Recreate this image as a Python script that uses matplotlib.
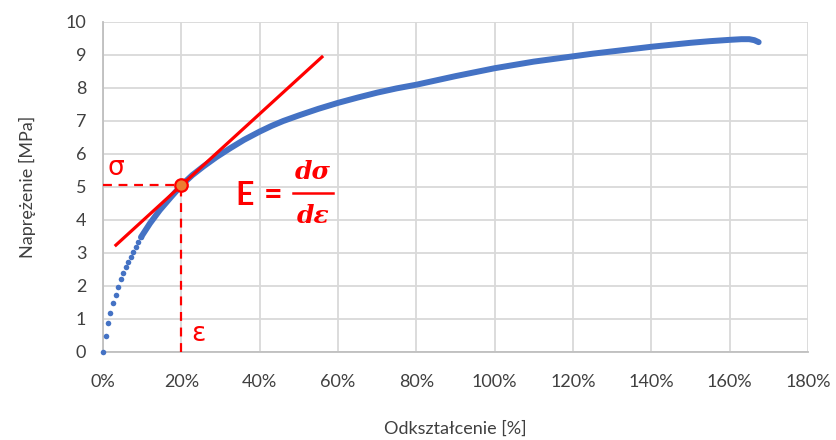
import matplotlib
matplotlib.use('Agg')
import matplotlib.pyplot as plt
from matplotlib.ticker import FuncFormatter

# sparse measurement points at the start (drawn as separate dots)
strain_start = [0, 0.69, 1.35, 1.87, 2.47, 3.24, 3.9, 4.5, 5.2, 5.8,
                6.5, 7.1, 7.7, 8.3, 9.0, 9.7]
stress_start = [0, 0.48, 0.88, 1.18, 1.47, 1.72, 1.97, 2.19, 2.37, 2.56,
                2.73, 2.88, 3.03, 3.18, 3.33, 3.47]

# dense part of the curve (points so close they form a thick line)
strain_main = [9.7, 12.0, 14.5, 17.1, 20.0, 22.8, 25.6, 29.0, 32.4, 36.0,
               40.0, 43.0, 46.0, 50.0, 55.0, 60.0, 65.0, 70.0, 75.0, 80.0,
               85.0, 90.0, 95.0, 100.0, 105.0, 110.0, 115.0, 120.0, 125.0,
               130.0, 135.0, 140.0, 145.0, 150.0, 155.0, 160.0, 163.0,
               165.0, 166.3, 167.4]
stress_main = [3.47, 3.89, 4.29, 4.65, 5.04, 5.35, 5.61, 5.90, 6.16, 6.42,
               6.67, 6.84, 6.99, 7.16, 7.36, 7.54, 7.70, 7.85, 7.98, 8.09,
               8.22, 8.35, 8.47, 8.59, 8.69, 8.79, 8.87, 8.95, 9.03,
               9.10, 9.17, 9.24, 9.30, 9.36, 9.41, 9.45, 9.47,
               9.47, 9.44, 9.38]

# tangent at the chosen point
point = (20.0, 5.04)
tangent_x = [3.3, 55.9]
tangent_y = [3.23, 8.93]

x_ticks = [0, 20, 40, 60, 80, 100, 120, 140, 160, 180]
y_ticks = [0, 1, 2, 3, 4, 5, 6, 7, 8, 9, 10]

blue = '#4472C4'
red = '#FF0000'
grid_col = '#D9D9D9'
text_col = '#404040'

plt.rcParams['font.family'] = ['Lato', 'DejaVu Sans']

fig = plt.figure(figsize=(8.36, 4.4), dpi=100)
ax = fig.add_axes([0.1232, 0.2007, 0.9665 - 0.1232, 0.9507 - 0.2007])

ax.set_xlim(0, 180)
ax.set_ylim(0, 10)
ax.set_xticks(x_ticks)
ax.set_yticks(y_ticks)
ax.xaxis.set_major_formatter(FuncFormatter(lambda v, p: f'{v:.0f}%'))
ax.grid(True, color=grid_col, lw=1.3, zorder=0)
ax.set_axisbelow(True)
for s in ('top', 'right'):
    ax.spines[s].set_visible(False)
for s in ('left', 'bottom'):
    ax.spines[s].set_color('#BFBFBF')
    ax.spines[s].set_linewidth(1.3)
ax.tick_params(length=0, labelsize=13, colors=text_col)
ax.tick_params(axis='x', pad=16)
ax.tick_params(axis='y', pad=12)

ax.set_xlabel('Odkształcenie [%]', fontsize=13, color=text_col, labelpad=22)
ax.set_ylabel('Naprężenie [MPa]', fontsize=13, color=text_col, labelpad=21)

# curve
ax.plot(strain_start, stress_start, 'o', color=blue, ms=4, mew=0, zorder=3,
        clip_on=False)
ax.plot(strain_main, stress_main, '-', color=blue, lw=4.3,
        solid_capstyle='round', solid_joinstyle='round', zorder=3)

# dashed guides to the axes
ax.plot([0, point[0]], [point[1], point[1]], '--', color=red, lw=1.6,
        dashes=(4, 3), zorder=4)
ax.plot([point[0], point[0]], [0, point[1]], '--', color=red, lw=1.6,
        dashes=(4, 3), zorder=4)

# tangent line
ax.plot(tangent_x, tangent_y, '-', color=red, lw=2.3, zorder=5)
ax.plot(*point, 'o', ms=9, mfc='#ED7D31', mec=red, mew=1.6, zorder=6)

# labels
ax.text(3.2, 5.58, 'σ', color=red, fontsize=19, ha='center', va='center',
        family='DejaVu Sans', zorder=6)
ax.text(24.4, 0.55, 'ε', color=red, fontsize=19, ha='center', va='center',
        family='DejaVu Sans', zorder=6)
ax.text(36.2, 4.72, 'E', color=red, fontsize=23, fontweight='bold',
        ha='center', va='center', zorder=6)
ax.text(43.3, 4.72, '=', color=red, fontsize=23, fontweight='bold',
        ha='center', va='center', zorder=6)
ax.text(53.6, 5.45, 'dσ', color=red, fontsize=18, fontweight='bold',
        style='italic', family='DejaVu Serif', ha='center', va='center',
        zorder=6)
ax.text(53.6, 4.12, 'dε', color=red, fontsize=18, fontweight='bold',
        style='italic', family='DejaVu Serif', ha='center', va='center',
        zorder=6)
ax.plot([48.4, 58.8], [4.81, 4.81], '-', color=red, lw=1.8, zorder=6)

fig.savefig('out.png', dpi=100)
